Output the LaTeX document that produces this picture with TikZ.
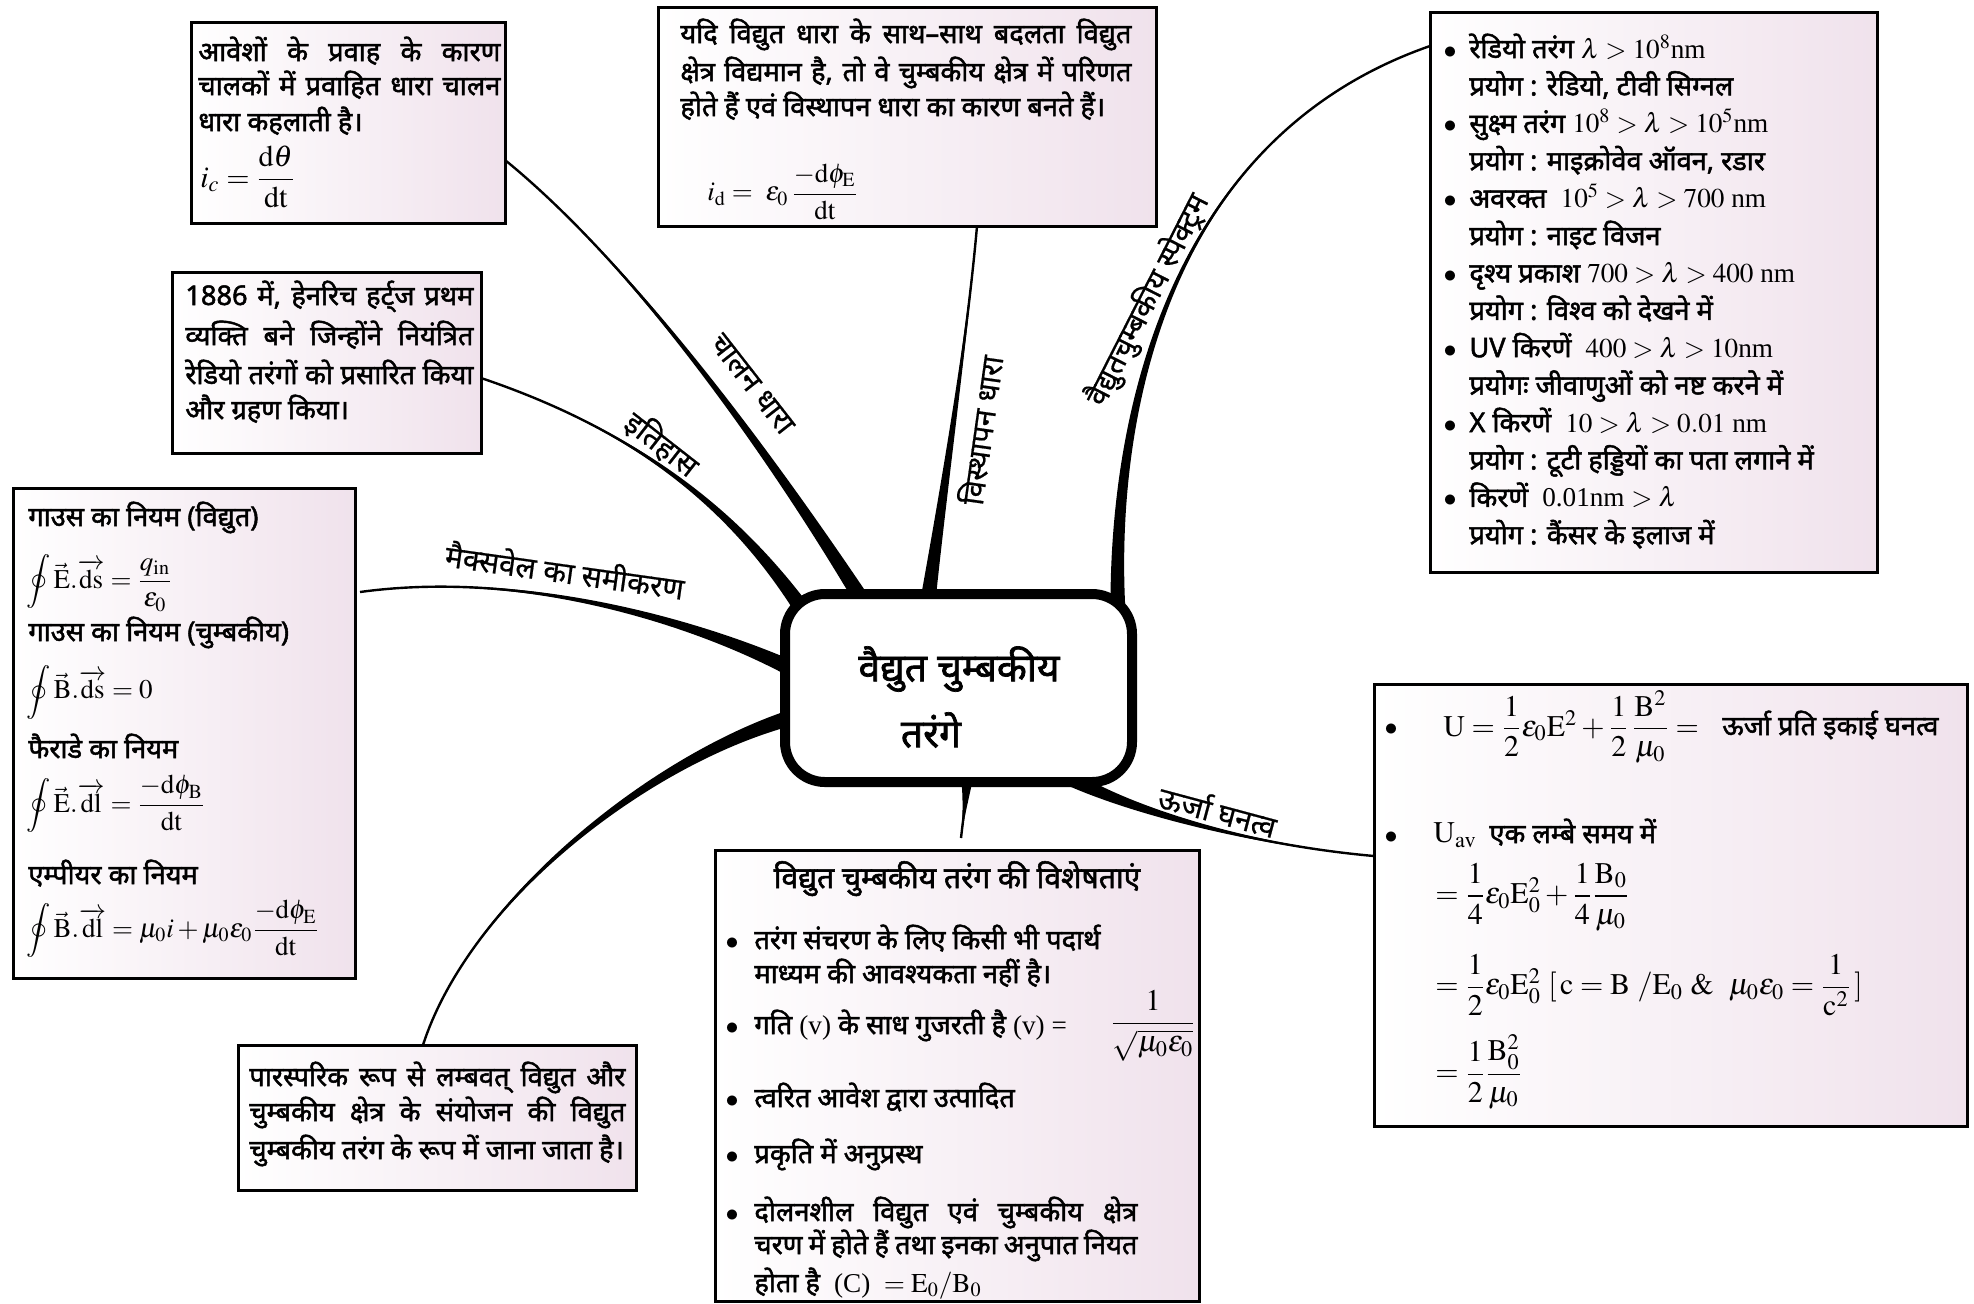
\documentclass[tikz,border=0pt]{standalone}
\usepackage{amsmath}
\usepackage{mathptmx}
\usepackage{fontspec}
\setmainfont{Liberation Serif}
\newfontfamily\dev[Script=Devanagari,FakeBold=1.8]{Noto Sans}
\newfontfamily\devr[Script=Devanagari,FakeBold=0.6]{Noto Sans}
\usetikzlibrary{calc,fit}
\definecolor{boxpink}{RGB}{240,226,236}
\newcommand\myvec[1]{\vec{\mathrm{#1}}}
\newcommand\myov[1]{\overrightarrow{\mathrm{#1}}}
\newcommand\jl[2]{\makebox[#1][s]{#2}}
\newcommand\taper[6]{%
  \fill ($(#1)+(#5,#6)$) .. controls ($(#2)+0.4*(#5,#6)$) and ($(#3)+0.1*(#5,#6)$) .. (#4)
        .. controls ($(#3)-0.1*(#5,#6)$) and ($(#2)-0.4*(#5,#6)$) .. ($(#1)-(#5,#6)$) -- cycle;
  \draw[line width=1.2pt] (#1) .. controls (#2) and (#3) .. (#4);}
\begin{document}
\begin{tikzpicture}[x=0.5pt,y=-0.5pt,
  box/.style={draw, line width=1.5pt, left color=white, right color=boxpink, inner sep=0pt},
  hd/.style={font={\dev\fontsize{13.6}{15}\selectfont}, inner sep=0pt, anchor=base west, text height=9pt, text depth=2.5pt},
  mth/.style={font={\fontsize{13.5}{16}\selectfont}, inner sep=0pt, anchor=west},
  emth/.style={font={\fontsize{15}{17}\selectfont}, inner sep=0pt, anchor=west},
  lbl/.style={font={\devr\fontsize{15}{16}\selectfont}, inner sep=0pt},
  bul/.style={font={\fontsize{13}{14}\selectfont}, inner sep=0pt, anchor=base}]
\useasboundingbox (0,0) rectangle (1974,1303);
\fill[white] (0,0) rectangle (1974,1303);

% ---------- boxes ----------
\node[box, fit={(191,22)(505,223)}] (C1) {};
\node[box, fit={(172,272)(481,453)}] (H) {};
\node[box, fit={(658,7)(1156,226)}] (D) {};
\node[box, fit={(1430,12)(1877,572)}] (S) {};
\node[box, fit={(13,488)(355,978)}] (M) {};
\node[box, fit={(238,1045)(636,1190)}] (P) {};
\node[box, fit={(715,850)(1199,1301)}] (F) {};
\node[box, fit={(1374,684)(1967,1126)}] (E) {};

% ---------- branch coordinates ----------
\coordinate (s1) at (862,600); \coordinate (a1) at (780,470); \coordinate (b1) at (640,270); \coordinate (e1) at (505,160);
\coordinate (s2) at (800,606); \coordinate (a2) at (740,520); \coordinate (b2) at (650,435); \coordinate (e2) at (481,378);
\coordinate (s3) at (790,668); \coordinate (a3) at (690,620); \coordinate (b3) at (520,570); \coordinate (e3) at (360,592);
\coordinate (s4) at (790,718); \coordinate (a4) at (650,760); \coordinate (b4) at (470,900); \coordinate (e4) at (423,1045);
\coordinate (s5) at (928,600); \coordinate (a5) at (945,480); \coordinate (b5) at (968,330); \coordinate (e5) at (977,226);
\coordinate (s6) at (1118,612); \coordinate (a6) at (1112,430); \coordinate (b6) at (1160,140); \coordinate (e6) at (1430,46);
\coordinate (s7) at (1070,778); \coordinate (a7) at (1130,810); \coordinate (b7) at (1250,845); \coordinate (e7) at (1374,856);
\coordinate (s8) at (967,778); \coordinate (a8) at (966,800); \coordinate (b8) at (963,820); \coordinate (e8) at (961,838);

\taper{s1}{a1}{b1}{e1}{6.5}{-4.3}
\taper{s2}{a2}{b2}{e2}{6.3}{-4.4}
\taper{s3}{a3}{b3}{e3}{3.6}{-7}
\taper{s4}{a4}{b4}{e4}{2.4}{7.5}
\taper{s5}{a5}{b5}{e5}{7.5}{1}
\taper{s6}{a6}{b6}{e6}{7.5}{-0.2}
\taper{s7}{a7}{b7}{e7}{-3.4}{7}
\taper{s8}{a8}{b8}{e8}{6}{0.5}

% ---------- central node ----------
\node[draw, line width=5pt, rounded corners=20pt, fill=white, fit={(785,594)(1132,782)}, inner sep=0pt] (cn) {};
\node[font={\dev\fontsize{19.5}{22}\selectfont}, inner sep=0pt] (cnt1) at (959,669) {वैद्युत चुम्बकीय};
\node[font={\dev\fontsize{19.5}{22}\selectfont}, inner sep=0pt] (cnt2) at (931,730) {तरंगे};

% ---------- branch labels ----------
\node[lbl, rotate=-52] (l1) at (752,384) {चालन धारा};
\node[lbl, rotate=-38] (l2) at (662,444) {इतिहास};
\node[lbl, rotate=-8] (l3) at (565,570) {मैक्सवेल का समीकरण};
\node[lbl, rotate=82] (l4) at (980,430) {विस्थापन धारा};
\node[lbl, rotate=63] (l5) at (1148,300) {वैद्युतचुम्बकीय स्पेक्ट्रम};
\node[lbl, rotate=-15] (l6) at (1218,810) {ऊर्जा घनत्व};

% ---------- C1 text ----------
\node[hd] (c1a) at (198,61) {\jl{151pt}{आवेशों के प्रवाह के कारण}};
\node[hd] (c1b) at (198,95) {\jl{151pt}{चालकों में प्रवाहित धारा चालन}};
\node[hd] (c1c) at (198,131) {धारा कहलाती है।};
\node[mth, font={\fontsize{15}{17}\selectfont}] (c1f) at (200,177) {$i_{c} = \dfrac{\mathrm{d}\theta}{\mathrm{dt}}$};

% ---------- H text ----------
\node[hd] (h1) at (185,305) {\jl{144pt}{1886 में, हेनरिच हर्ट्ज प्रथम}};
\node[hd] (h2) at (185,345) {\jl{144pt}{व्यक्ति बने जिन्होंने नियंत्रित}};
\node[hd] (h3) at (185,384) {\jl{144pt}{रेडियो तरंगों को प्रसारित किया}};
\node[hd] (h4) at (185,419) {और ग्रहण किया।};

% ---------- D text ----------
\node[hd] (d1) at (680,43) {\jl{225.5pt}{यदि विद्युत धारा के साथ–साथ बदलता विद्युत}};
\node[hd] (d2) at (680,81) {\jl{225.5pt}{क्षेत्र विद्यमान है, तो वे चुम्बकीय क्षेत्र में परिणत}};
\node[hd] (d3) at (680,116) {होते हैं एवं विस्थापन धारा का कारण बनते हैं।};
\node[mth] (df) at (707,192) {$i_{\mathrm{d}} =\ \varepsilon_0\,\dfrac{-\mathrm{d}\phi_{\mathrm{E}}}{\mathrm{dt}}$};

% ---------- S text ----------
\node[bul] (sb1) at (1450,58) {$\bullet$};
\node[hd] (s1t) at (1469,58) {रेडियो तरंग {\rmfamily$\lambda > 10^{8}$nm}};
\node[hd] (s2t) at (1469,95.4) {प्रयोग : रेडियो, टीवी सिग्नल};
\node[bul] (sb2) at (1450,132.8) {$\bullet$};
\node[hd] (s3t) at (1469,132.8) {सुक्ष्म तरंग {\rmfamily$10^{8} > \lambda > 10^{5}$nm}};
\node[hd] (s4t) at (1469,170.2) {प्रयोग : माइक्रोवेव ऑवन, रडार};
\node[bul] (sb3) at (1450,207.6) {$\bullet$};
\node[hd] (s5t) at (1469,207.6) {अवरक्त \ {\rmfamily$10^{5} > \lambda > 700$ nm}};
\node[hd] (s6t) at (1469,245) {प्रयोग : नाइट विजन};
\node[bul] (sb4) at (1450,282.4) {$\bullet$};
\node[hd] (s7t) at (1469,282.4) {दृश्य प्रकाश {\rmfamily$700 > \lambda > 400$ nm}};
\node[hd] (s8t) at (1469,319.8) {प्रयोग : विश्व को देखने में};
\node[bul] (sb5) at (1450,357.2) {$\bullet$};
\node[hd] (s9t) at (1469,357.2) {UV किरणें \ {\rmfamily$400 > \lambda > 10$nm}};
\node[hd] (s10t) at (1469,394.6) {प्रयोगः जीवाणुओं को नष्ट करने में};
\node[bul] (sb6) at (1450,432) {$\bullet$};
\node[hd] (s11t) at (1469,432) {X किरणें \ {\rmfamily$10 > \lambda > 0.01$ nm}};
\node[hd] (s12t) at (1469,469.4) {प्रयोग : टूटी हड्डियों का पता लगाने में};
\node[bul] (sb7) at (1450,506.8) {$\bullet$};
\node[hd] (s13t) at (1469,506.8) {किरणें \ {\rmfamily 0.01nm $> \lambda$}};
\node[hd] (s14t) at (1469,544.2) {प्रयोग : कैंसर के इलाज में};

% ---------- M text ----------
\node[hd] (m1) at (28,526) {गाउस का नियम (विद्युत)};
\node[mth] (m2) at (26,583) {$\displaystyle\oint \myvec{E}.\myov{ds} = \frac{q_{\mathrm{in}}}{\varepsilon_0}$};
\node[hd] (m3) at (28,641) {गाउस का नियम (चुम्बकीय)};
\node[mth] (m4) at (26,692) {$\displaystyle\oint \myvec{B}.\myov{ds} = 0$};
\node[hd] (m5) at (28,758) {फैराडे का नियम};
\node[mth] (m6) at (26,804) {$\displaystyle\oint \myvec{E}.\myov{dl} = \frac{-\mathrm{d}\phi_{\mathrm{B}}}{\mathrm{dt}}$};
\node[hd] (m7) at (28,884) {एम्पीयर का नियम};
\node[mth] (m8) at (26,929) {$\displaystyle\oint \myvec{B}.\myov{dl} = \mu_0 i + \mu_0\varepsilon_0\frac{-\mathrm{d}\phi_{\mathrm{E}}}{\mathrm{dt}}$};

% ---------- P text ----------
\node[hd] (p1) at (249,1086) {\jl{188pt}{पारस्परिक रूप से लम्बवत् विद्युत और}};
\node[hd] (p2) at (249,1121) {\jl{188pt}{चुम्बकीय क्षेत्र के संयोजन की विद्युत}};
\node[hd] (p3) at (249,1159) {चुम्बकीय तरंग के रूप में जाना जाता है।};

% ---------- F text ----------
\node[hd, anchor=base, font={\dev\fontsize{15}{17}\selectfont}] (ft) at (957,888) {विद्युत चुम्बकीय तरंग की विशेषताएं};
\node[bul] (fb1) at (732,949) {$\bullet$};
\node[hd] (f1a) at (754,949) {तरंग संचरण के लिए किसी भी पदार्थ};
\node[hd] (f1b) at (754,983) {माध्यम की आवश्यकता नहीं है।};
\node[bul] (fb2) at (732,1034) {$\bullet$};
\node[hd] (f2a) at (754,1034) {गति {\rmfamily(v)} के साध गुजरती है {\rmfamily(v) =}};
\node[emth, anchor=center] (f2f) at (1153,1026) {$\dfrac{1}{\sqrt{\mu_0\varepsilon_0}}$};
\node[bul] (fb3) at (732,1107) {$\bullet$};
\node[hd] (f3a) at (754,1107) {त्वरित आवेश द्वारा उत्पादित};
\node[bul] (fb4) at (732,1163) {$\bullet$};
\node[hd] (f4a) at (754,1163) {प्रकृति में अनुप्रस्थ};
\node[bul] (fb5) at (732,1221) {$\bullet$};
\node[hd] (f5a) at (754,1221) {\jl{191.5pt}{दोलनशील विद्युत एवं चुम्बकीय क्षेत्र}};
\node[hd] (f5b) at (754,1254) {\jl{191.5pt}{चरण में होते हैं तथा इनका अनुपात नियत}};
\node[hd] (f5c) at (754,1292) {होता है \ {\rmfamily(C) \ $= \mathrm{E}_0/\mathrm{B}_0$}};

% ---------- E text ----------
\node[bul] (eb1) at (1391,735) {$\bullet$};
\node[emth] (e1f) at (1443,727) {$\mathrm{U} = \dfrac{1}{2}\varepsilon_0\mathrm{E}^2 + \dfrac{1}{2}\,\dfrac{\mathrm{B}^2}{\mu_0} =$};
\node[hd] (e1t) at (1722,735) {ऊर्जा प्रति इकाई घनत्व};
\node[bul] (eb2) at (1391,843) {$\bullet$};
\node[emth] (e2f) at (1433,835) {$\mathrm{U}_{\mathrm{av}}$};
\node[hd] (e2t) at (1489,843) {एक लम्बे समय में};
\node[emth] (e3f) at (1435,897) {$= \dfrac{1}{4}\varepsilon_0\mathrm{E}_0^2 + \dfrac{1}{4}\dfrac{\mathrm{B}_0}{\mu_0}$};
\node[emth] (e4f) at (1435,985) {$= \dfrac{1}{2}\varepsilon_0\mathrm{E}_0^2\ [\,\mathrm{c} = \mathrm{B}\ /\mathrm{E}_0\ \&\ \ \mu_0\varepsilon_0 = \dfrac{1}{\mathrm{c}^2}\,]$};
\node[emth] (e5f) at (1435,1072) {$= \dfrac{1}{2}\dfrac{\mathrm{B}_0^2}{\mu_0}$};
\end{tikzpicture}
\end{document}
